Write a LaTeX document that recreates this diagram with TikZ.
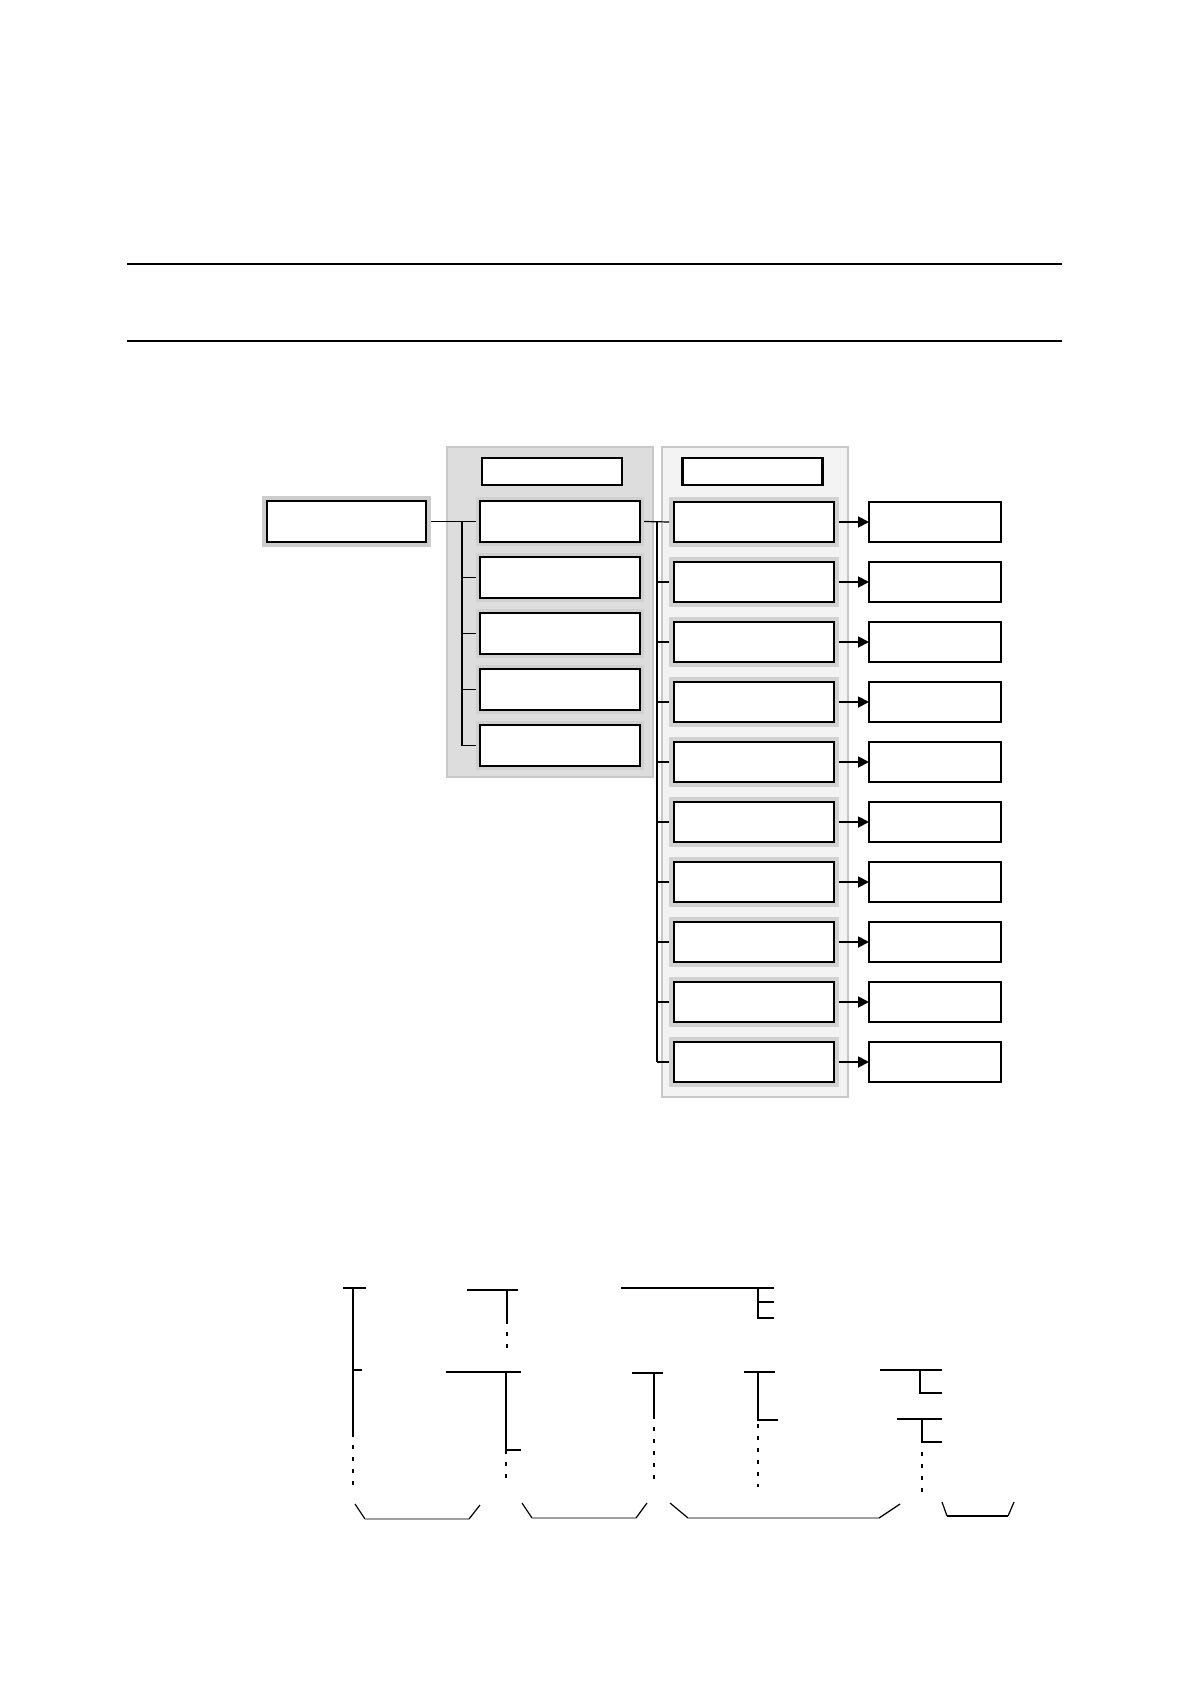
\documentclass[tikz,border=0pt]{standalone}
\usetikzlibrary{arrows.meta}
\definecolor{panelA}{RGB}{221,221,221}
\definecolor{panelB}{RGB}{243,243,243}
\definecolor{rimgray}{RGB}{200,200,200}
\definecolor{halo}{RGB}{210,210,210}
\begin{document}
\begin{tikzpicture}[x=0.5pt,y=-0.5pt,
    box/.style={draw,fill=white,line width=0.65pt,inner sep=0pt,outer sep=0pt},
    midbox/.style={box,minimum width=80pt,minimum height=20.5pt,preaction={draw=halo!105,line width=4pt}},
    rowbox/.style={box,line width=0.8pt,minimum width=80pt,minimum height=20pt,preaction={draw=halo,line width=5pt}},
    outbox/.style={box,line width=0.75pt,minimum width=66pt,minimum height=20pt},
    hdbox/.style={box,line width=1.3pt,minimum width=70pt,minimum height=13.5pt},
    wire/.style={line width=0.6pt},
    arr/.style={line width=0.9pt,-{Triangle[length=5.5pt,width=5.5pt]}},
    dots/.style={line width=0.6pt,dash pattern=on 2pt off 4pt},
    rim/.style={line width=0.8pt,gray!75}]
    \useasboundingbox (0,0) rectangle (1190,1684);
    % rules at the top
    \draw[line width=1pt] (127,264) -- (1062,264);
    \draw[line width=1pt] (127,341) -- (1062,341);
    % panels
    \draw[fill=panelA,draw=rimgray,line width=1pt] (447,447) rectangle (653,777);
    \draw[fill=panelB,draw=rimgray,line width=1pt] (662,447) rectangle (848,1097);
    \node[hdbox] (hdA) at (552,471.5) {};
    \node[hdbox] (hdB) at (752.5,471.5) {};
    % source box
    \node[box,minimum width=79.5pt,minimum height=20.5pt,preaction={draw=halo!110,line width=5pt}] (src) at (346.5,521.5) {};
    % middle column
    \foreach \i in {1,...,5}
        \node[midbox] (mid\i) at (560,{521.5+56*(\i-1)}) {};
    \coordinate (spA) at (462,0);
    \draw[wire] ([xshift=2.5pt]src.east) -- ([xshift=-2pt]mid1.west);
    \draw[wire,line width=0.8pt] (spA |- mid1) -- (spA |- mid5);
    \foreach \i in {2,...,5}
        \draw[wire] (spA |- mid\i) -- ([xshift=-2pt]mid\i.west);
    % right column and outputs
    \foreach \i in {1,...,10}{
        \node[rowbox] (row\i) at (754,{522+60*(\i-1)}) {};
        \node[outbox] (out\i) at (935,{522+60*(\i-1)}) {};
        \draw[arr] ([xshift=2.5pt]row\i.east) -- (out\i.west);
    }
    \coordinate (spB) at (657,0);
    \draw[wire] ([xshift=2pt]mid1.east) -- ([xshift=-2.5pt]row1.west);
    \draw[wire,line width=0.8pt] (spB |- row1) -- (spB |- row10);
    \foreach \i in {2,...,10}
        \draw[wire,line width=0.9pt] (spB |- row\i) -- ([xshift=-2.5pt]row\i.west);
    % bottom sketch
    \draw[wire] (343,1288) -- (366,1288);
    \draw[wire] (353,1288) -- (353,1433);
    \draw[dots] (353,1433) -- (353,1488);
    \draw[wire] (353,1370) -- (362,1370);
    \draw[wire] (467,1290) -- (518,1290);
    \draw[wire] (507,1290) -- (507,1320);
    \draw[dots] (507,1320) -- (507,1350);
    \draw[wire] (446,1372) -- (521,1372);
    \draw[wire] (506,1372) -- (506,1450) -- (521,1450);
    \draw[dots] (506,1450) -- (506,1485);
    \draw[wire] (632,1373) -- (663,1373);
    \draw[wire] (654,1373) -- (654,1415);
    \draw[dots] (654,1415) -- (654,1485);
    \draw[wire] (621,1288) -- (774,1288);
    \draw[wire] (758,1288) -- (758,1318) -- (774,1318);
    \draw[wire] (758,1302) -- (774,1302);
    \draw[wire] (744,1372) -- (775,1372);
    \draw[wire] (758,1372) -- (758,1420) -- (778,1420);
    \draw[dots] (758,1424) -- (758,1487);
    \draw[wire] (880,1370) -- (942,1370);
    \draw[wire] (920,1370) -- (920,1393) -- (942,1393);
    \draw[wire] (897,1419) -- (942,1419);
    \draw[wire] (922,1419) -- (922,1442) -- (942,1442);
    \draw[dots] (922,1452) -- (922,1497);
    % brackets underneath
    \draw[wire] (355,1504) -- (365,1519); \draw[rim] (365,1519) -- (469,1519); \draw[wire] (469,1519) -- (480,1505);
    \draw[wire] (522,1503) -- (532,1518); \draw[rim] (532,1518) -- (636,1518); \draw[wire] (636,1518) -- (647,1503);
    \draw[wire] (670,1503) -- (688,1518); \draw[rim] (688,1518) -- (879,1518); \draw[wire] (879,1518) -- (900,1504);
    \draw[wire] (942,1502) -- (947,1516); \draw[wire] (947,1516) -- (1008,1516); \draw[wire] (1008,1516) -- (1014,1502);
\end{tikzpicture}
\end{document}
